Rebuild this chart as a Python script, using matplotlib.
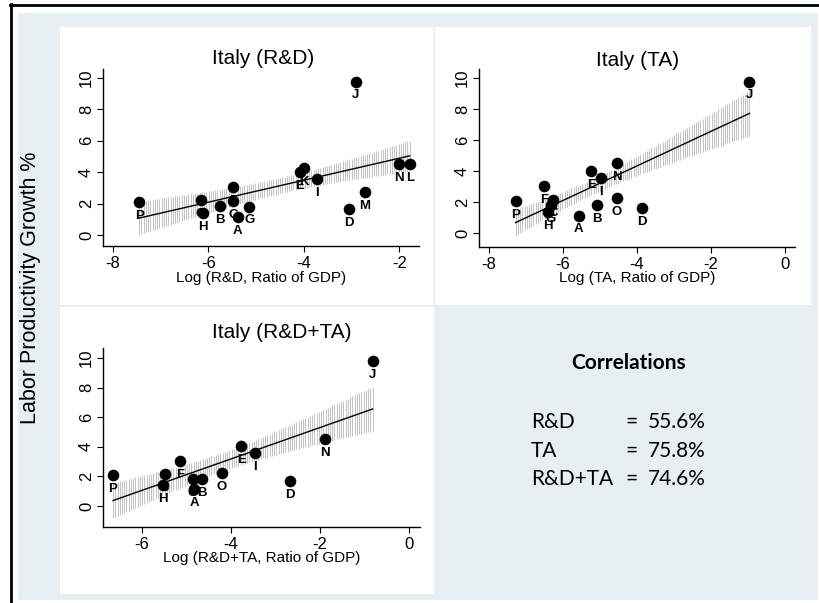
import numpy as np
import matplotlib.pyplot as plt
from matplotlib.patches import Rectangle

W, H = 820, 603

# labour productivity growth (%) by industry letter
letters = ['A', 'B', 'C', 'D', 'E', 'F', 'G', 'H', 'I', 'J', 'K', 'L', 'M', 'N', 'O', 'P']
growth = [1.15, 1.85, 2.18, 1.66, 4.03, 3.03, 1.81, 1.40, 3.55, 9.77, 4.26, 4.52, 2.72, 4.51, 2.25, 2.07]

# log ratios of GDP, per panel
rd_labels = ['A', 'B', 'C', 'D', 'E', 'F', 'G', 'H', 'I', 'J', 'K', 'L', 'M', 'N', 'O', 'P']
rd_x = [-5.39, -5.76, -5.48, -3.05, -4.08, -5.48, -5.14, -6.12, -3.73, -2.91, -4.00, -1.78, -2.72, -2.00, -6.16, -7.45]

ta_labels = ['A', 'B', 'C', 'D', 'E', 'F', 'G', 'H', 'I', 'J', 'N', 'O', 'P']
ta_x = [-5.57, -5.09, -6.26, -3.86, -5.23, -6.50, -6.32, -6.40, -4.97, -0.96, -4.53, -4.55, -7.28]

rdta_labels = ['A', 'B', 'C', 'D', 'E', 'F', 'G', 'H', 'I', 'J', 'N', 'O', 'P']
rdta_x = [-4.83, -4.65, -5.49, -2.67, -3.77, -5.14, -4.86, -5.53, -3.46, -0.82, -1.89, -4.21, -6.65]

corr_names = ['R&D', 'TA', 'R&D+TA']
corr_values = ['55.6%', '75.8%', '74.6%']

# width of the shaded band in standard errors
band_se = {'rd': 1.1, 'ta': 1.2, 'rdta': 1.45}

ARIAL = 'Liberation Sans'
BG = '#e7eff3'


def fx(px):
    return px / W


def fy(py):
    return 1 - py / H


def add_rect(fig, l, t, r, b, color):
    fig.patches.append(Rectangle((fx(l), fy(b)), (r - l) / W, (b - t) / H,
                                 transform=fig.transFigure, color=color, zorder=-10, lw=0))


def panel(fig, box, xlim, ylim, xticks, labels, xs, k_se, title, title_x, title_y, xlabel, xlabel_y):
    l, t, r, b = box
    ax = fig.add_axes([fx(l), fy(b), (r - l) / W, (b - t) / H])
    ax.set_facecolor('none')
    ys = np.array([growth[letters.index(k)] for k in labels])
    xs = np.array(xs)

    # linear fit with band around the mean prediction
    n = len(xs)
    xbar = xs.mean()
    sxx = ((xs - xbar) ** 2).sum()
    b1 = ((xs - xbar) * (ys - ys.mean())).sum() / sxx
    b0 = ys.mean() - b1 * xbar
    s = np.sqrt(((ys - b0 - b1 * xs) ** 2).sum() / (n - 2))
    width_px = (xs.max() - xs.min()) / (xlim[1] - xlim[0]) * (r - l)
    g = np.linspace(xs.min(), xs.max(), int(width_px / 2.2))
    half = k_se * s * np.sqrt(1 / n + (g - xbar) ** 2 / sxx)
    fit = b0 + b1 * g
    ax.vlines(g, fit - half, fit + half, color='#c4c4c4', lw=0.75, zorder=1)
    ax.plot(g, fit, color='black', lw=1.0, zorder=2)

    for x, y, k in zip(xs, ys, labels):
        ax.annotate(k, (x, y), xytext=(0, -10), textcoords='offset points',
                    ha='center', va='center', fontsize=9.5, fontweight='bold',
                    family=ARIAL, zorder=3)
    ax.scatter(xs, ys, s=70, color='black', zorder=4, linewidths=0)

    ax.set_xlim(xlim)
    ax.set_ylim(ylim)
    ax.set_xticks(xticks)
    ax.set_xticklabels([str(v) for v in xticks])
    ax.set_yticks([0, 2, 4, 6, 8, 10])
    for sp in ['top', 'right']:
        ax.spines[sp].set_visible(False)
    for sp in ['left', 'bottom']:
        ax.spines[sp].set_linewidth(1.0)
    ax.tick_params(axis='x', length=4.5, width=0.8, pad=2.5, labelsize=12)
    ax.tick_params(axis='y', length=4.5, width=0.8, pad=2.0, labelsize=12)
    for lab in ax.get_xticklabels() + ax.get_yticklabels():
        lab.set_family(ARIAL)
    for lab in ax.get_yticklabels():
        lab.set_rotation(90)
        lab.set_va('center')

    fig.text(fx(title_x), fy(title_y), title, ha='center', va='center',
             fontsize=15, family=ARIAL)
    fig.text(fx((l + r) / 2), fy(xlabel_y), xlabel, ha='center', va='center',
             fontsize=11, family=ARIAL)
    return ax


fig = plt.figure(figsize=(8.2, 6.03), dpi=100)
fig.patch.set_facecolor('white')

# frame and backgrounds
add_rect(fig, 18, 13, 818, 600, BG)
add_rect(fig, 60, 27, 433, 305, 'white')
add_rect(fig, 435, 27, 811, 305, 'white')
add_rect(fig, 60, 307, 434, 594, 'white')
fig.add_artist(plt.Line2D([fx(10), fx(820)], [fy(5), fy(5)], color='black', lw=2, transform=fig.transFigure))
fig.add_artist(plt.Line2D([fx(11), fx(11)], [fy(4), fy(603)], color='black', lw=2, transform=fig.transFigure))

panel(fig, (103, 69, 419, 246), (-8.21, -1.585), (-0.70, 10.57), [-8, -6, -4, -2],
      rd_labels, rd_x, band_se['rd'], 'Italy (R&D)', 263, 58, 'Log (R&D, Ratio of GDP)', 278)
panel(fig, (479, 69, 795, 247), (-8.27, 0.27), (-0.87, 10.58), [-8, -6, -4, -2, 0],
      ta_labels, ta_x, band_se['ta'], 'Italy (TA)', 638, 60, 'Log (TA, Ratio of GDP)', 278)
panel(fig, (103, 348, 420, 527), (-6.876, 0.247), (-1.42, 10.68), [-6, -4, -2, 0],
      rdta_labels, rdta_x, band_se['rdta'], 'Italy (R&D+TA)', 282, 333, 'Log (R&D+TA, Ratio of GDP)', 558)

fig.text(fx(31), fy(288), 'Labor Productivity Growth %', rotation=90, ha='center', va='center',
         fontsize=15.5, family=ARIAL)

# correlations box
fig.text(fx(629), fy(363), 'Correlations', ha='center', va='center', fontsize=15,
         fontweight='bold', family='Lato')
row_y = [422, 451, 479]
for name, val, yy in zip(corr_names, corr_values, row_y):
    fig.text(fx(531), fy(yy), name, ha='left', va='center', fontsize=15, family='Lato')
    fig.text(fx(632), fy(yy), '=', ha='center', va='center', fontsize=15, family='Lato')
    fig.text(fx(648), fy(yy), val, ha='left', va='center', fontsize=15, family='Lato')

fig.savefig('out.png', dpi=100)
